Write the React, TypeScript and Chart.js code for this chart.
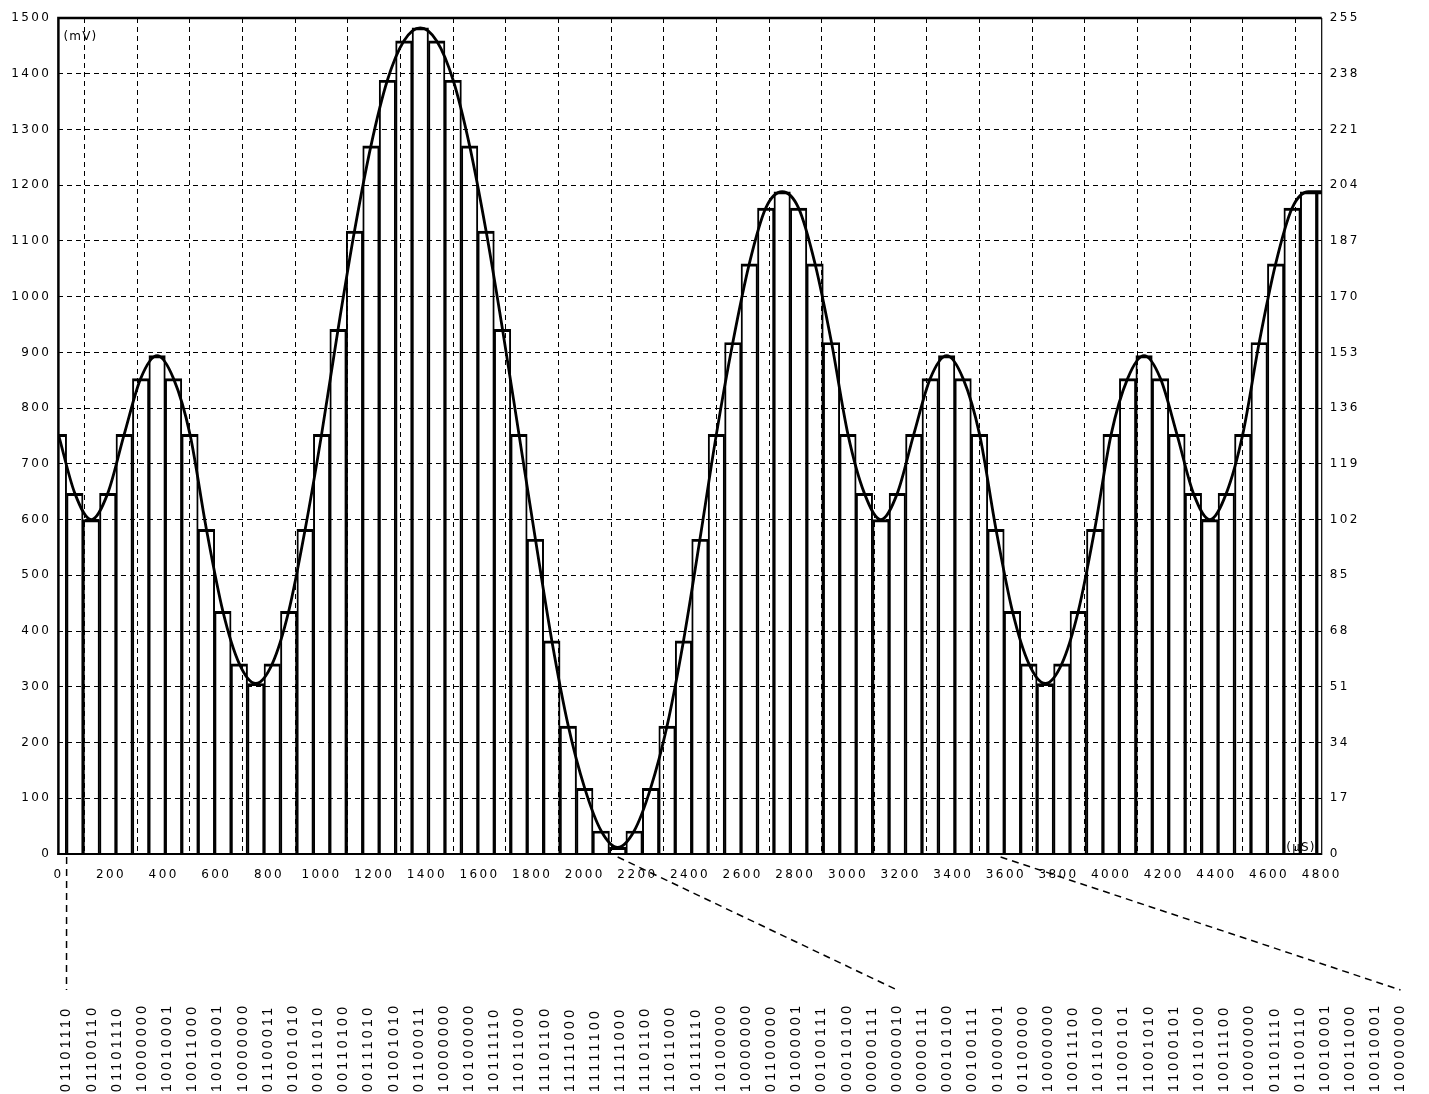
import React, { useEffect, useRef } from "react";
import { Chart, registerables } from "chart.js";

Chart.register(...registerables);

// ---- data ----
const SAMPLE_PERIOD_US = 62.5;
const FULL_SCALE_MV = 1500;
const FULL_SCALE_CODE = 255;
const X_MAX_US = 4800;
const X_TICK_STEP = 200;
const LEFT_TICK_STEP = 100;
const RIGHT_TICK_STEP = 17;

// 8-bit code of each sample (one every 62.5 µs, starting at t = 0)
const sampleCodes = [
  128, 110, 102, 110, 128, 145, 152, 145, 128, 99,
  74, 58, 52, 58, 74, 99, 128, 160, 190, 216,
  236, 248, 252, 248, 236, 216, 190, 160, 128, 96,
  65, 39, 20, 7, 2, 7, 20, 39, 65, 96,
  128, 156, 180, 197, 202, 197, 180, 156, 128, 110,
  102, 110, 128, 145, 152, 145, 128, 99, 74, 58,
  52, 58, 74, 99, 128, 145, 152, 145, 128, 110,
  102, 110, 128, 156, 180, 197, 202, 202,
];

// binary words printed under the chart
const binaryLabels = [
  "01101110", "01100110", "01101110", "10000000", "10010001", "10011000", "10010001", "10000000", "01100011", "01001010",
  "00111010", "00110100", "00111010", "01001010", "01100011", "10000000", "10100000", "10111110", "11011000", "11101100",
  "11111000", "11111100", "11111000", "11101100", "11011000", "10111110", "10100000", "10000000", "01100000", "01000001",
  "00100111", "00010100", "00000111", "00000010", "00000111", "00010100", "00100111", "01000001", "01100000", "10000000",
  "10011100", "10110100", "11000101", "11001010", "11000101", "10110100", "10011100", "10000000", "01101110", "01100110",
  "10010001", "10011000", "10010001", "10000000",
];

// dashed leader lines: time on the chart -> index of the binary word
const connectorTimesUs = [31.25, 2125, 3580];
const connectorLabelIdx = [0, 33, 53];

const Y_UNIT = "(mV)";
const X_UNIT = "(μS)";

// ---- layout ----
const W = 1429;
const H = 1094;
const PLOT_LEFT = 58.4;
const PLOT_RIGHT = 1321.7;
const PLOT_TOP = 18;
const PLOT_BOTTOM = 854;
const LABEL_X0 = 66.5;
const LABEL_STEP = 25.17;
const LABEL_BOTTOM = 1092;
const LEADER_END_Y = 990;
const TICK_FONT = "'DejaVu Sans', Verdana, sans-serif";
const WORD_FONT = "'Liberation Sans', Arial, sans-serif";
const TICK_SPACING = "2.4px";

const toMv = (c: number) => (c * FULL_SCALE_MV) / FULL_SCALE_CODE;
const points = sampleCodes.map((c, k) => ({ x: k * SAMPLE_PERIOD_US, y: toMv(c) }));

const decorPlugin = {
  id: "decor",
  beforeDraw(chart: any) {
    (chart.ctx as any).letterSpacing = TICK_SPACING;
  },
  afterDatasetsDraw(chart: any) {
    const ctx = chart.ctx as CanvasRenderingContext2D;
    const { left, right, top, bottom } = chart.chartArea;
    ctx.save();
    ctx.setLineDash([]);
    ctx.strokeStyle = "#000";
    ctx.lineWidth = 2.5;
    ctx.beginPath();
    ctx.moveTo(left, bottom + 1);
    ctx.lineTo(left, top);
    ctx.lineTo(right, top);
    ctx.stroke();
    ctx.lineWidth = 2;
    ctx.beginPath();
    ctx.moveTo(left - 1, bottom);
    ctx.lineTo(right, bottom);
    ctx.stroke();
    ctx.lineWidth = 1.2;
    ctx.beginPath();
    ctx.moveTo(right, top);
    ctx.lineTo(right, bottom + 1);
    ctx.stroke();
    ctx.restore();
  },
  afterDraw(chart: any) {
    const ctx = chart.ctx as CanvasRenderingContext2D;
    const { left, right, top, bottom } = chart.chartArea;
    const xs = chart.scales.x;
    ctx.save();
    ctx.fillStyle = "#000";
    (ctx as any).letterSpacing = "1.2px";
    ctx.font = `12px ${TICK_FONT}`;
    ctx.textBaseline = "alphabetic";
    ctx.textAlign = "left";
    ctx.fillText(Y_UNIT, left + 5, top + 22);
    ctx.textAlign = "right";
    ctx.fillText(X_UNIT, right - 6, bottom - 3);

    // binary words
    (ctx as any).letterSpacing = "3.4px";
    ctx.font = `14px ${WORD_FONT}`;
    ctx.textAlign = "left";
    ctx.textBaseline = "middle";
    binaryLabels.forEach((s, i) => {
      ctx.save();
      ctx.translate(LABEL_X0 + i * LABEL_STEP, LABEL_BOTTOM);
      ctx.rotate(-Math.PI / 2);
      ctx.fillText(s, 0, 0);
      ctx.restore();
    });

    // leader lines
    ctx.strokeStyle = "#000";
    ctx.lineWidth = 1.5;
    ctx.setLineDash([7, 5]);
    connectorTimesUs.forEach((t, j) => {
      const x0 = xs.getPixelForValue(t);
      const x1 = LABEL_X0 + connectorLabelIdx[j] * LABEL_STEP;
      ctx.beginPath();
      ctx.moveTo(x0, bottom + 3);
      ctx.lineTo(x1, LEADER_END_Y);
      ctx.stroke();
    });
    ctx.restore();
  },
};

export default function App() {
  const ref = useRef<HTMLCanvasElement>(null);
  useEffect(() => {
    if (!ref.current) return;
    const tickFont = { family: TICK_FONT, size: 12 };
    const plain = (v: any) => String(v);
    const chart = new Chart(ref.current, {
      type: "bar",
      data: {
        datasets: [
          {
            type: "line",
            data: points,
            borderColor: "#000",
            borderWidth: 2.8,
            pointRadius: 0,
            fill: false,
            cubicInterpolationMode: "monotone",
            clip: 0,
            order: 0,
          } as any,
          {
            type: "bar",
            data: points,
            backgroundColor: "rgba(0,0,0,0)",
            borderColor: "#000",
            borderWidth: { top: 2.2, left: 1.3, right: 1.3, bottom: 0 },
            borderSkipped: false,
            barPercentage: 1,
            categoryPercentage: 1,
            clip: 0,
            order: 1,
          } as any,
        ],
      },
      options: {
        animation: false,
        responsive: false,
        devicePixelRatio: 1,
        events: [],
        layout: { padding: { left: 0, right: 0, top: PLOT_TOP, bottom: H - PLOT_BOTTOM - 40 } },
        plugins: { legend: { display: false }, tooltip: { enabled: false } },
        scales: {
          x: {
            type: "linear",
            min: 0,
            max: X_MAX_US,
            offset: false,
            afterFit: (s: any) => {
              s.height = 40;
            },
            ticks: {
              stepSize: X_TICK_STEP,
              autoSkip: false,
              maxRotation: 0,
              color: "#000",
              font: tickFont,
              padding: 14,
              callback: plain,
            },
            grid: { color: "#000", lineWidth: 1, drawTicks: false },
            border: { display: false, dash: [5, 4] },
          },
          y: {
            type: "linear",
            position: "left",
            min: 0,
            max: FULL_SCALE_MV,
            afterFit: (s: any) => {
              s.width = PLOT_LEFT;
            },
            ticks: { stepSize: LEFT_TICK_STEP, color: "#000", font: tickFont, padding: 7, callback: plain },
            grid: { color: "#000", lineWidth: 1, drawTicks: false },
            border: { display: false, dash: [5, 4] },
          },
          y2: {
            type: "linear",
            position: "right",
            min: 0,
            max: FULL_SCALE_CODE,
            afterFit: (s: any) => {
              s.width = W - PLOT_RIGHT;
            },
            ticks: { stepSize: RIGHT_TICK_STEP, color: "#000", font: tickFont, padding: 8, callback: plain },
            grid: { drawOnChartArea: false, drawTicks: false },
            border: { display: false },
          },
        },
      },
      plugins: [decorPlugin],
    } as any);
    return () => chart.destroy();
  }, []);
  return (
    <div style={{ position: "absolute", left: 0, top: 0, width: W, height: H, background: "#fff" }}>
      <canvas ref={ref} width={W} height={H} style={{ display: "block", width: W, height: H }} />
    </div>
  );
}
